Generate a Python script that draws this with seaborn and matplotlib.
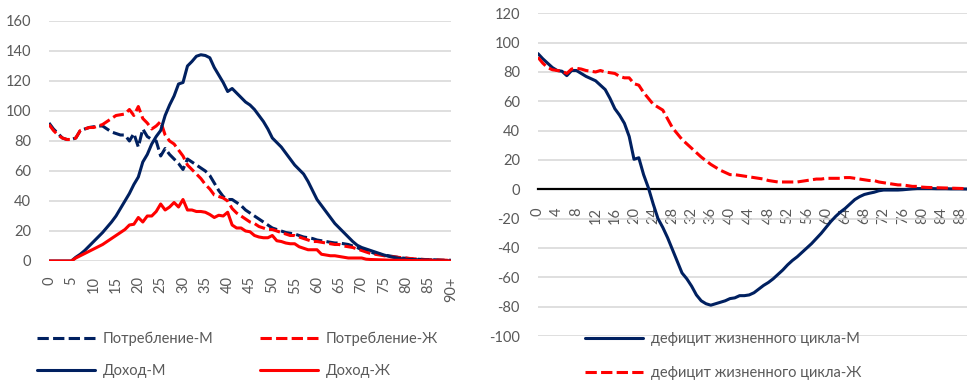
import matplotlib
matplotlib.use("Agg")
import matplotlib.pyplot as plt
import seaborn as sns
from matplotlib.lines import Line2D

# ages 0..90
ages = list(range(91))

cons_m = [92, 88, 85, 82, 81, 81,
          82, 87, 88, 89, 89.5,
          90, 90, 88, 86, 85,
          84, 84, 80, 85, 76,
          88, 83, 81, 80, 70,
          75, 71, 68, 65, 61,
          68, 66, 64, 62, 60,
          57, 52, 47, 43, 41,
          41, 39, 37, 34, 32,
          30, 28, 26, 24, 22,
          21, 20, 19, 18.5, 18,
          17, 16, 15.5, 15, 14,
          13.5, 13, 12.5, 12, 12,
          11.5, 11, 10, 9, 7.5,
          7, 6, 5, 4.5, 4,
          3.5, 3, 2.5, 2, 1.8,
          1.5, 1.3, 1.1, 1, 0.9,
          0.8, 0.7, 0.6, 0.5, 0.5]

cons_f = [91, 87, 84, 82, 81, 81,
          82, 87, 88, 89, 89,
          90, 91, 93, 95, 97,
          97.5, 98, 101, 97, 103,
          95, 92, 88, 90, 93,
          84, 80, 78, 74, 70,
          64, 61, 58, 55, 51,
          48, 44, 43, 42, 40,
          35, 32, 30, 28, 26,
          25, 23, 22, 21, 21,
          20, 19, 18, 17, 17,
          16, 15, 14, 13, 13,
          12.5, 12, 11.5, 11, 11,
          10, 9.5, 9, 8, 7,
          6, 5, 4.5, 4, 3.5,
          3, 2.8, 2.5, 2.2, 2,
          1.6, 1.4, 1.2, 1.0, 0.9,
          0.8, 0.7, 0.6, 0.5, 0.4]

inc_m = [0, 0, 0, 0, 0, 0,
         2.5, 4.5, 7, 10, 13,
         16, 19, 22.5, 26, 30,
         35, 40, 45, 51, 56,
         66, 71, 78, 83, 87,
         97, 104, 110, 118, 119,
         130, 133, 136.5, 137.5, 137,
         135.5, 129, 124, 119, 113,
         115, 112, 109, 106, 104,
         101, 97, 93, 88, 82,
         79, 76, 72, 68, 64,
         61, 58, 53, 47, 41,
         37, 33, 29, 25, 22,
         19, 16, 13, 10.5, 9,
         8, 7, 6, 5, 4,
         3.2, 2.5, 2, 1.5, 1.2,
         1.0, 0.9, 0.8, 0.7, 0.6,
         0.5, 0.4, 0.3, 0.2, 0.1]

inc_f = [0, 0, 0, 0, 0, 0,
         2, 3.5, 5, 6.5, 8,
         9.5, 11, 13, 15, 17,
         19, 21, 24, 24.5, 29,
         26, 30, 30, 33, 38,
         34, 36, 39, 36, 41,
         34, 34, 33, 33, 32.5,
         31, 29, 30.5, 30, 32.5,
         24, 22, 22, 20, 19.5,
         17, 16, 15.5, 15.5, 17,
         13.5, 13, 12, 11.5, 11.5,
         9.5, 8.5, 7.5, 7.5, 7.5,
         4.5, 4, 3.5, 3.5, 3,
         2.5, 2, 2, 2, 2,
         1.2, 1, 0.9, 0.8, 0.7,
         0.6, 0.5, 0.5, 0.5, 0.5,
         0.3, 0.3, 0.3, 0.2, 0.2,
         0.2, 0.1, 0.1, 0.1, 0]

def_m = [92.5, 89, 86, 83, 81, 80.5,
         77.5, 81, 81, 79, 77,
         75.5, 74, 71, 68, 62,
         55, 50.5, 45, 36, 20.5,
         21.5, 10, 1, -10, -20,
         -26, -33, -41, -49, -57,
         -61, -66, -72, -76, -78,
         -79, -78, -77, -76, -74.5,
         -74, -72.5, -72.5, -72, -70.5,
         -68, -65.5, -63.5, -61, -58,
         -55, -51.5, -48.5, -46, -43,
         -40, -37, -33.5, -30, -26,
         -22, -18.5, -15.5, -13, -10,
         -7, -5, -3.5, -2.7, -2,
         -1, -0.5, -0.5, -0.5, -0.5,
         -0.3, 0, 0.3, 0.5, 0.5,
         0.5, 0.5, 0.4, 0.4, 0.4,
         0.3, 0.3, 0.3, 0.2, 0.2]

def_f = [90, 86, 83, 81.5, 81, 80.5,
         79, 82, 82.5, 82, 81,
         80.5, 80, 81, 80, 79.5,
         79, 77, 76, 76, 72,
         71, 66, 62, 58, 56,
         54, 48, 42, 38, 34,
         31, 28, 25, 22, 19.5,
         17, 15, 13, 11.5, 10,
         10, 9.5, 9, 8.5, 8,
         7.5, 7, 6, 5.5, 5,
         5, 5, 5, 5, 5.5,
         6, 6.5, 7, 7, 7.5,
         7.5, 7.5, 7.5, 8, 8,
         7.5, 7, 6.5, 6, 6,
         5, 4.5, 4, 3.5, 3,
         3, 2.5, 2, 2, 1.5,
         1.3, 1.2, 1.1, 1, 0.9,
         0.8, 0.7, 0.6, 0.5, 0.5]

left_labels = ["Потребление-М", "Доход-М", "Потребление-Ж", "Доход-Ж"]
right_labels = ["дефицит жизненного цикла-М", "дефицит жизненного цикла-Ж"]

sns.set_theme(style="white")
plt.rcParams['font.family'] = ['Lato', 'Open Sans', 'DejaVu Sans']
plt.rcParams['axes.unicode_minus'] = False

NAVY = '#002060'
RED = '#FF0000'
GRID = '#D9D9D9'
TXT = '#595959'
LW = 2.2
DASH = (0, (3.7, 1.4))
FS = 10.5

W, H = 967, 384
fig = plt.figure(figsize=(W / 100, H / 100), dpi=100)


def box(x0, x1, ytop, ybot):
    return [x0 / W, 1 - ybot / H, (x1 - x0) / W, (ybot - ytop) / H]


ax1 = fig.add_axes(box(49, 451, 21, 261))
ax2 = fig.add_axes(box(538, 970, 13.3, 336))

# left panel
sns.lineplot(x=ages, y=cons_m, ax=ax1, color=NAVY, lw=LW, linestyle=DASH)
sns.lineplot(x=ages, y=cons_f, ax=ax1, color=RED, lw=LW, linestyle=DASH)
sns.lineplot(x=ages, y=inc_m, ax=ax1, color=NAVY, lw=LW)
sns.lineplot(x=ages, y=inc_f, ax=ax1, color=RED, lw=LW)

ax1.set_xlim(0, 90)
ax1.set_ylim(0, 160)
ax1.set_yticks(range(0, 161, 20))
xt = list(range(0, 91, 5))
ax1.set_xticks(xt)
ax1.set_xticklabels([str(a) for a in xt[:-1]] + ["90+"])

# right panel
sns.lineplot(x=ages, y=def_m, ax=ax2, color=NAVY, lw=LW)
sns.lineplot(x=ages, y=def_f, ax=ax2, color=RED, lw=LW, linestyle=DASH)

ax2.spines['bottom'].set_position(('data', 0))
ax2.set_xlim(0, 90)
ax2.set_ylim(-100, 120)
ax2.set_yticks(range(-100, 121, 20))
xt2 = list(range(0, 89, 4))
ax2.set_xticks(xt2)
ax2.set_xticklabels([str(a) for a in xt2])

for ax in (ax1, ax2):
    ax.set_xlabel('')
    ax.set_ylabel('')
    ax.yaxis.grid(True, color=GRID, lw=1.2)
    ax.xaxis.grid(False)
    ax.set_axisbelow(True)
    for s in ax.spines.values():
        s.set_visible(False)
    ax.tick_params(axis='both', length=0, labelsize=FS, labelcolor=TXT)
    ax.tick_params(axis='x', labelrotation=90)
    ax.tick_params(axis='y', pad=13)
    ax.set_facecolor('none')

ax1.tick_params(axis='x', pad=11)
ax2.spines['bottom'].set_visible(True)
ax2.spines['bottom'].set_color('black')
ax2.spines['bottom'].set_linewidth(1.6)
ax2.spines['bottom'].set_zorder(1.5)
ax2.tick_params(axis='x', pad=13)

# legends
h_left = [Line2D([], [], color=NAVY, lw=LW, linestyle=DASH),
          Line2D([], [], color=NAVY, lw=LW),
          Line2D([], [], color=RED, lw=LW, linestyle=DASH),
          Line2D([], [], color=RED, lw=LW)]
fig.legend(handles=h_left, labels=left_labels, ncol=2, loc='upper left',
           bbox_to_anchor=(37 / W, 1 - 332 / H), frameon=False,
           handlelength=4.0, handletextpad=0.5, columnspacing=3.2,
           labelspacing=1.2, borderpad=0, borderaxespad=0,
           fontsize=FS, labelcolor=TXT)

h_right = [Line2D([], [], color=NAVY, lw=LW),
           Line2D([], [], color=RED, lw=LW, linestyle=DASH)]
fig.legend(handles=h_right, labels=right_labels, ncol=1, loc='upper left',
           bbox_to_anchor=(585 / W, 1 - 332 / H), frameon=False,
           handlelength=4.0, handletextpad=0.5,
           labelspacing=1.4, borderpad=0, borderaxespad=0,
           fontsize=FS, labelcolor=TXT)

fig.savefig("out.png", dpi=100)
